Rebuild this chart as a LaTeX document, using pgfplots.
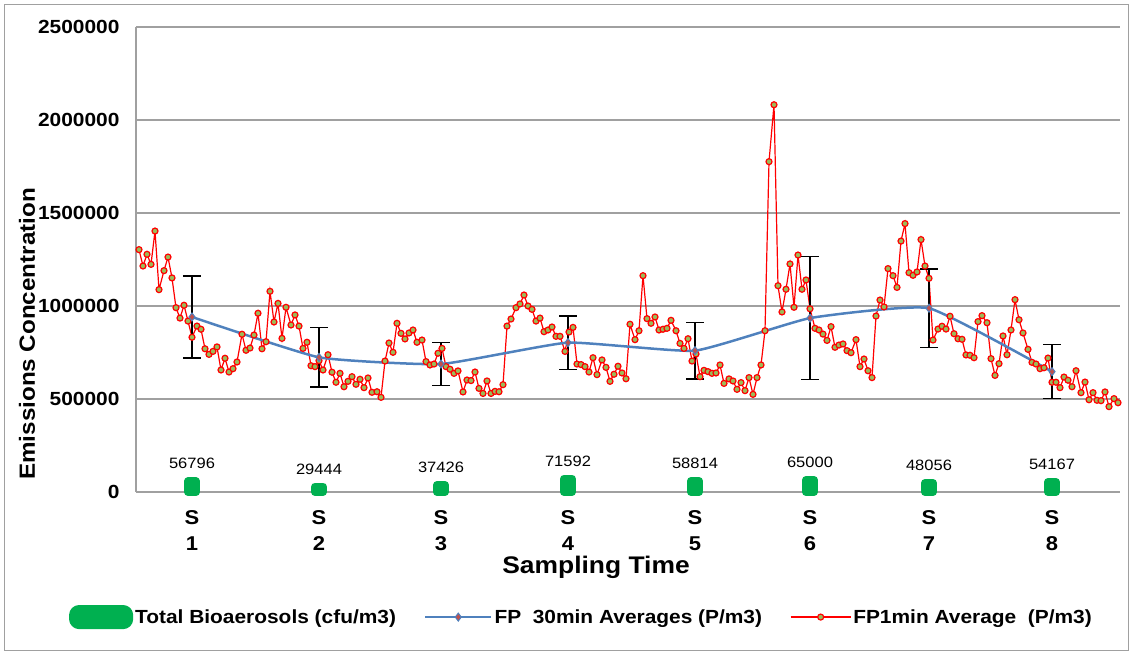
\documentclass[border=0pt]{standalone}
\usepackage{pgfplots}
\pgfplotsset{compat=1.18}
\usepackage{fontspec}
\setmainfont[FakeStretch=1.1]{Liberation Sans}
\definecolor{barGreen}{RGB}{0,176,80}
\definecolor{lineBlue}{RGB}{79,129,189}
\definecolor{mkOlive}{RGB}{155,187,89}
\definecolor{dmFill}{RGB}{192,80,77}
\definecolor{gridGray}{RGB}{160,160,160}
\begin{document}
\begin{tikzpicture}
\begin{axis}[
  width=984pt, height=465pt, scale only axis,
  xmin=136, xmax=1120, ymin=0, ymax=2500000,
  clip=false,
  axis y line*=left, axis x line*=bottom,
  axis line style={draw=gridGray, line width=1.5pt},
  ytick={0,500000,1000000,1500000,2000000,2500000},
  ymajorgrids, grid style={draw=gridGray, line width=1.5pt},
  major tick length=0pt,
  scaled y ticks=false,
  /pgf/number format/fixed,
  /pgf/number format/1000 sep={},
  /pgf/number format/assume math mode=true,
  yticklabel style={font=\bfseries\fontsize{19}{22}\selectfont, xshift=-13pt},
  xtick={192,319,441,568,695,810,929,1052},
  xticklabels={{S\\1},{S\\2},{S\\3},{S\\4},{S\\5},{S\\6},{S\\7},{S\\8}},
  xticklabel style={align=center, font=\bfseries\fontsize{20}{26}\selectfont, yshift=-15pt},
  xlabel={Sampling Time},
  xlabel style={at={(axis description cs:0.4675,-0.163)}, anchor=center, font=\bfseries\fontsize{24}{28}\selectfont},
  ylabel={Emissions Concentration},
  ylabel style={at={(axis description cs:-0.1108,0.340)}, anchor=center, font=\bfseries\fontsize{22}{26}\selectfont},
  legend style={at={(axis description cs:0.4527,-0.269)}, anchor=center, draw=none, fill=none,
    legend columns=3, font=\bfseries\fontsize{19}{22}\selectfont,
    /tikz/every even column/.append style={column sep=26pt}},
  legend cell align=left,
]
% Total Bioaerosols
\addplot[ybar, bar width=8pt, fill=barGreen, draw=barGreen, line width=8pt, line join=round,
  nodes near coords,
  nodes near coords style={font=\fontsize{15}{18}\selectfont, text=black, yshift=5pt},
  legend image code/.code={\fill[barGreen, rounded corners=6pt] (0pt,-8pt) rectangle (56pt,8pt);}]
  coordinates {(192,56796) (319,29444) (441,37426) (568,71592) (695,58814) (810,65000) (929,48056) (1052,54167)};
\addlegendentry{Total Bioaerosols (cfu/m3)}
\addlegendimage{legend image code/.code={\draw[lineBlue, line width=2.5pt, mark=diamond*, mark size=4pt,
     mark options={fill=dmFill, draw=lineBlue, line width=1pt}, mark repeat=2, mark phase=2]
     plot coordinates {(0pt,0pt) (33pt,0pt) (66pt,0pt)};}}
\addlegendentry{FP\ \ 30min Averages (P/m3)}
\addlegendimage{legend image code/.code={\draw[red, line width=1.2pt, mark=*, mark size=3pt,
     mark options={fill=mkOlive, draw=red, line width=1.2pt}, mark repeat=2, mark phase=2]
     plot coordinates {(0pt,0pt) (30pt,0pt) (60pt,0pt)};}}
\addlegendentry{FP1min Average\ \ (P/m3)}
% FP 1 min average
\addplot[forget plot, color=red, line width=1.2pt, mark=*, mark size=3pt,
  mark options={fill=mkOlive, draw=red, line width=1.2pt}]
  coordinates {
(139,1303000) (143,1215000) (147,1278000) (151,1224000) (155,1403000) (159,1088000) (164,1190000) (168,1263000)
(172,1151000) (176,991000) (180,935000) (184,1004000) (188,919000) (192,832000) (197,892000) (201,875000)
(205,770000) (209,740000) (213,756000) (217,780000) (221,656000) (225,719000) (229,645000) (233,663000)
(237,699000) (242,848000) (246,762000) (250,774000) (254,844000) (258,961000) (262,770000) (266,808000)
(270,1079000) (274,914000) (278,1014000) (282,826000) (286,993000) (291,898000) (295,952000) (299,892000)
(303,772000) (307,805000) (311,679000) (315,674000) (319,706000) (323,656000) (328,738000) (332,644000)
(336,590000) (340,638000) (344,566000) (348,595000) (352,620000) (356,579000) (360,606000) (364,561000)
(368,613000) (372,536000) (377,539000) (381,509000) (385,704000) (389,801000) (393,751000) (397,907000)
(401,853000) (405,823000) (409,855000) (413,871000) (417,805000) (422,817000) (426,701000) (430,683000)
(434,688000) (438,746000) (442,772000) (446,674000) (450,660000) (454,638000) (458,651000) (463,538000)
(467,602000) (471,599000) (475,645000) (479,557000) (483,530000) (487,597000) (491,530000) (495,541000)
(499,539000) (503,577000) (507,892000) (511,930000) (516,991000) (520,1011000) (524,1059000) (528,1000000)
(532,982000) (536,919000) (540,935000) (544,862000) (548,871000) (552,887000) (556,837000) (560,837000)
(565,756000) (569,860000) (573,885000) (577,688000) (581,685000) (585,674000) (589,645000) (593,722000)
(597,631000) (602,710000) (606,670000) (610,595000) (614,633000) (618,676000) (622,640000) (626,609000)
(630,902000) (635,819000) (639,867000) (643,1163000) (647,932000) (651,907000) (655,941000) (659,871000)
(663,875000) (667,880000) (671,923000) (676,867000) (680,799000) (684,772000) (688,824000) (692,704000)
(696,742000) (700,620000) (704,654000) (708,647000) (712,638000) (716,640000) (720,683000) (724,584000)
(729,608000) (733,597000) (737,552000) (741,588000) (745,545000) (749,615000) (753,525000) (757,615000)
(761,683000) (765,867000) (769,1776000) (774,2082000) (778,1109000) (782,968000) (786,1090000) (790,1226000)
(794,993000) (798,1274000) (802,1090000) (806,1140000) (810,985000) (815,880000) (819,871000) (823,849000)
(827,815000) (831,889000) (835,778000) (839,790000) (843,796000) (847,760000) (851,749000) (856,819000)
(860,674000) (864,715000) (868,652000) (872,615000) (876,946000) (880,1032000) (884,995000) (888,1201000)
(893,1163000) (897,1100000) (901,1349000) (905,1443000) (909,1179000) (913,1165000) (917,1183000) (921,1357000)
(925,1215000) (929,1149000) (933,817000) (938,876000) (942,891000) (946,876000) (950,945000) (954,851000)
(958,824000) (962,821000) (966,737000) (970,735000) (974,722000) (978,916000) (982,948000) (987,910000)
(991,717000) (995,627000) (999,690000) (1003,839000) (1007,738000) (1011,871000) (1015,1034000) (1019,926000)
(1023,855000) (1028,767000) (1032,697000) (1036,688000) (1040,663000) (1044,668000) (1048,720000) (1052,590000)
(1056,590000) (1060,561000) (1064,618000) (1068,601000) (1072,566000) (1076,652000) (1081,534000) (1085,591000)
(1089,496000) (1093,534000) (1097,493000) (1101,491000) (1105,538000) (1109,459000) (1114,502000) (1118,480000)
  };
% FP 30 min averages
\addplot[forget plot, color=lineBlue, line width=2.5pt, smooth, tension=0.25,
  mark=diamond*, mark size=4pt, mark options={fill=dmFill, draw=lineBlue, line width=1pt}]
  coordinates {(192,941000) (319,724000) (441,688000) (568,803000) (695,760000) (810,935000) (929,988000) (1052,647000)};
% error bars of the 30 min averages
\addplot[forget plot, draw=none, mark=none,
  error bars/.cd, y dir=both, y explicit, error mark=-,
  error bar style={draw=black, line width=1.5pt},
  error mark options={rotate=90, draw=black, mark size=9pt, line width=1.5pt}]
  coordinates {(192,941000) +- (0,220000) (319,724000) +- (0,160000) (441,688000) +- (0,115000)
  (568,803000) +- (0,144000) (695,760000) +- (0,152000) (810,935000) +- (0,330000)
  (929,988000) +- (0,212000) (1052,647000) +- (0,145000)};
\end{axis}
\path (-136pt,-163pt) rectangle (996pt,492pt);
\draw[gridGray, line width=1pt] (-131pt,-159pt) rectangle (992pt,487pt);
\end{tikzpicture}
\end{document}
